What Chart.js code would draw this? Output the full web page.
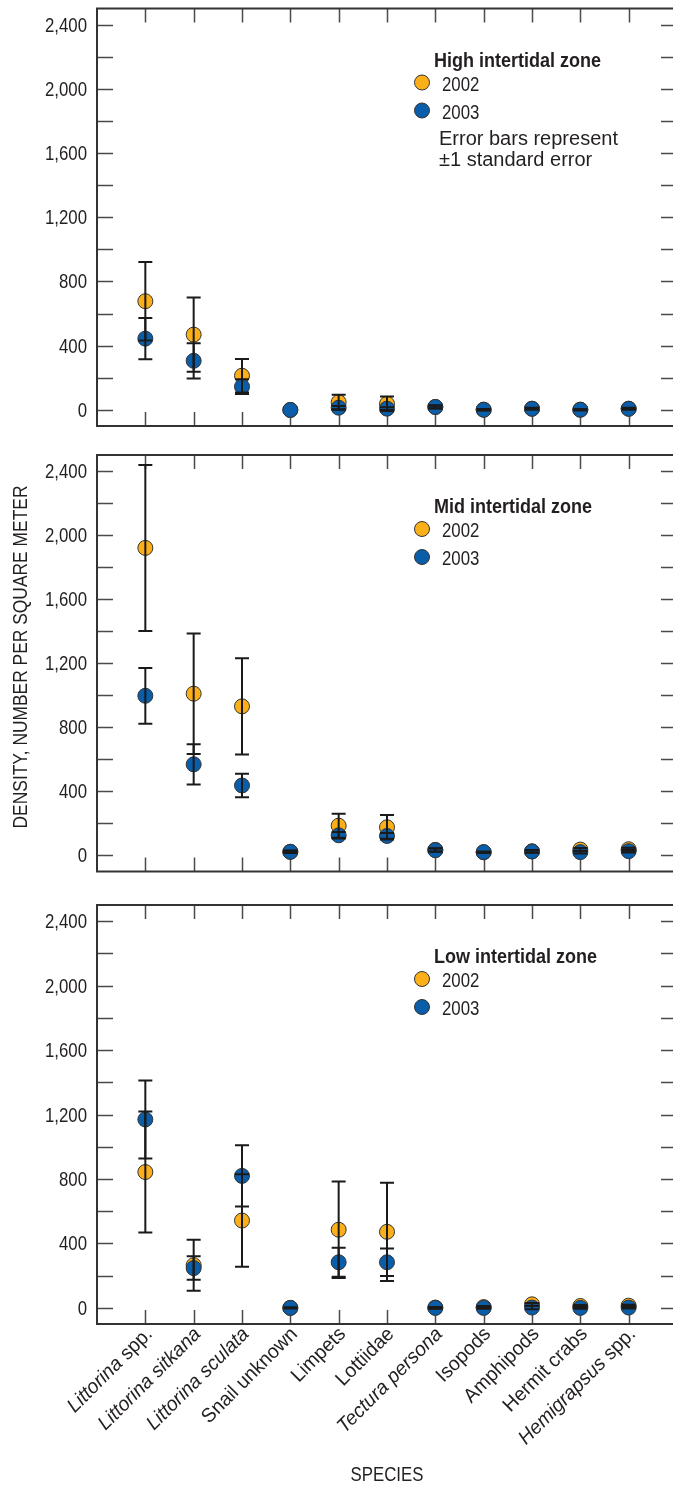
<!DOCTYPE html>
<html>
<head>
<meta charset="utf-8">
<script src="https://cdn.jsdelivr.net/npm/chart.js@4.4.0/dist/chart.umd.min.js"></script>
<style>
  body { margin: 0; background: #fff; }
  #wrap { position: relative; width: 673px; height: 1487px; overflow: hidden; }
  canvas { position: absolute; left: 0; }
</style>
</head>
<body>
<div id="wrap">
  <canvas id="high" width="700" height="440" style="top:0"></canvas>
  <canvas id="mid" width="700" height="440" style="top:440px"></canvas>
  <canvas id="low" width="700" height="607" style="top:880px"></canvas>
</div>
<script>
// categories along the x axis (italic part is the genus / species name)
var species = ["Littorina spp.", "Littorina sitkana", "Littorina sculata", "Snail unknown", "Limpets",
  "Lottiidae", "Tectura persona", "Isopods", "Amphipods", "Hermit crabs", "Hemigrapsus spp."];
var italicPart = ["Littorina", "Littorina sitkana", "Littorina sculata", "", "", "",
  "Tectura persona", "", "", "", "Hemigrapsus"];

var yTicks = [0, 400, 800, 1200, 1600, 2000, 2400];
var yMinorTicks = [0, 200, 400, 600, 800, 1000, 1200, 1400, 1600, 1800, 2000, 2200, 2400];

// density, number per square meter, and standard error
var high2002 = [677, 469, 213, 0, 48, 38, 18, 2, 8, 2, 8];
var high2002Se = [244, 231, 105, 0, 47, 45, 8, 4, 6, 3, 6];
var high2003 = [444, 306, 145, 0, 14, 8, 19, 1, 7, 1, 7];
var high2003Se = [128, 110, 46, 0, 10, 8, 10, 5, 5, 4, 5];

var mid2002 = [1920, 1010, 931, 23, 186, 176, 35, 20, 26, 37, 39];
var mid2002Se = [518, 376, 300, 8, 75, 76, 10, 4, 8, 10, 10];
var mid2003 = [997, 569, 437, 23, 126, 122, 33, 21, 25, 21, 27];
var mid2003Se = [174, 126, 73, 6, 20, 18, 10, 3, 8, 8, 8];

var low2002 = [843, 265, 542, 0, 485, 472, 2, 5, 22, 12, 14];
var low2002Se = [375, 158, 287, 0, 300, 305, 4, 6, 8, 6, 6];
var low2003 = [1169, 247, 819, 0, 283, 283, 0, 0, 2, 0, 2];
var low2003Se = [242, 73, 190, 4, 90, 85, 5, 6, 10, 6, 6];

var ORANGE = "#fbb01a";
var BLUE = "#0a5ea9";
var INK = "#231f20";
var FAMILY = "'Liberation Sans', Arial, sans-serif";
var NARROW = 0.84;   // squeeze to look like a condensed face

Chart.defaults.font.family = FAMILY;
Chart.defaults.color = INK;

function pts(values) {
  return values.map(function(v, i) { return {x: i, y: v}; });
}

// text with optional horizontal squeeze and rotation
function label(ctx, text, x, y, o) {
  ctx.save();
  ctx.translate(x, y);
  if (o.rot) ctx.rotate(o.rot);
  ctx.scale(o.sx || 1, 1);
  ctx.font = (o.style || "") + " " + (o.weight || "") + " " + (o.size || 20) + "px " + FAMILY;
  ctx.textAlign = o.align || "left";
  ctx.textBaseline = "alphabetic";
  ctx.fillStyle = INK;
  ctx.fillText(text, 0, 0);
  var w = ctx.measureText(text).width * (o.sx || 1);
  ctx.restore();
  return w;
}

function textWidth(ctx, text, font, sx) {
  ctx.save();
  ctx.font = font;
  var w = ctx.measureText(text).width * sx;
  ctx.restore();
  return w;
}

// frame, inward tick marks on all four sides, y tick labels
var frameTicks = {
  id: "frameTicks",
  beforeDatasetsDraw: function(chart) {
    var ctx = chart.ctx, a = chart.chartArea;
    var xs = chart.scales.x, ys = chart.scales.y;
    ctx.save();
    ctx.strokeStyle = "#4a4a4a";
    ctx.lineWidth = 1.5;
    ctx.beginPath();
    yMinorTicks.forEach(function(v) {
      var y = Math.round(ys.getPixelForValue(v)) + 0.5;
      ctx.moveTo(a.left, y); ctx.lineTo(a.left + 16, y);
      ctx.moveTo(a.right, y); ctx.lineTo(a.right - 16, y);
    });
    species.forEach(function(s, i) {
      var x = Math.round(xs.getPixelForValue(i)) + 0.5;
      ctx.moveTo(x, a.top); ctx.lineTo(x, a.top + 14);
      ctx.moveTo(x, a.bottom); ctx.lineTo(x, a.bottom - 14);
    });
    ctx.stroke();
    ctx.strokeStyle = "#333";
    ctx.lineWidth = 2;
    ctx.strokeRect(a.left, a.top, a.right - a.left, a.bottom - a.top);
    ctx.restore();
    ys.ticks.forEach(function(t) {
      label(ctx, t.value.toLocaleString("en-US"), a.left - 10, ys.getPixelForValue(t.value) + 7,
        {align: "right", sx: NARROW});
    });
  }
};

// +/- 1 standard error bars, drawn over the markers
var errorBars = {
  id: "errorBars",
  afterDatasetsDraw: function(chart) {
    var ctx = chart.ctx, xs = chart.scales.x, ys = chart.scales.y;
    ctx.save();
    ctx.strokeStyle = "#1a1a1a";
    ctx.lineWidth = 2;
    chart.data.datasets.forEach(function(ds) {
      ds.data.forEach(function(p, i) {
        var se = ds.se[i];
        if (!se) return;
        var x = xs.getPixelForValue(p.x);
        var y1 = ys.getPixelForValue(p.y + se), y2 = ys.getPixelForValue(p.y - se);
        ctx.beginPath();
        ctx.moveTo(x, y1); ctx.lineTo(x, y2);
        ctx.moveTo(x - 7, y1); ctx.lineTo(x + 7, y1);
        ctx.moveTo(x - 7, y2); ctx.lineTo(x + 7, y2);
        ctx.stroke();
      });
    });
    ctx.restore();
  }
};

// legend inside the plot, species labels and axis titles
var decorations = {
  id: "decorations",
  afterDraw: function(chart) {
    var ctx = chart.ctx, a = chart.chartArea;
    var o = chart.options.plugins.decorations;
    label(ctx, o.title, a.left + 337, a.top + 58, {weight: "bold", sx: 0.9});
    chart.data.datasets.forEach(function(ds, k) {
      var y = a.top + 74 + k * 28;
      ctx.save();
      ctx.beginPath();
      ctx.arc(a.left + 325, y, 7.5, 0, Math.PI * 2);
      ctx.fillStyle = ds.backgroundColor;
      ctx.fill();
      ctx.lineWidth = 1;
      ctx.strokeStyle = "#333";
      ctx.stroke();
      ctx.restore();
      label(ctx, ds.label, a.left + 345, y + 8, {sx: NARROW});
    });
    (o.notes || []).forEach(function(t, k) {
      label(ctx, t, a.left + 342, a.top + 136 + k * 21, {size: 20});
    });

    if (o.yTitle) {
      label(ctx, o.yTitle, 27, a.top + 202, {rot: -Math.PI / 2, align: "center", sx: 0.87});
    }

    if (o.xLabels) {
      var xs = chart.scales.x;
      var sx = 0.97, rot = -Math.PI / 4;
      var c = Math.cos(rot), s = Math.sin(rot);
      species.forEach(function(name, i) {
        var it = italicPart[i];
        var rest = name.slice(it.length);
        var wRest = textWidth(ctx, rest, "20px " + FAMILY, sx);
        var wIt = textWidth(ctx, it, "italic 20px " + FAMILY, sx);
        var x0 = xs.getPixelForValue(i) + 8, y0 = a.bottom + 11;
        var d = -(wIt + wRest);
        if (it) label(ctx, it, x0 + d * c, y0 + d * s, {rot: rot, style: "italic", sx: sx});
        if (rest) label(ctx, rest, x0 - wRest * c, y0 - wRest * s, {rot: rot, sx: sx});
      });
      label(ctx, "SPECIES", (a.left + a.right) / 2, a.bottom + 157, {align: "center", sx: NARROW});
    }
  }
};

function makePanel(id, title, v2002, se2002, v2003, se2003, pad, extra) {
  return new Chart(document.getElementById(id), {
    type: "scatter",
    data: {
      datasets: [
        {label: "2002", data: pts(v2002), se: se2002, order: 2, backgroundColor: ORANGE, borderColor: "#333",
          borderWidth: 1, pointRadius: 7.5, pointHoverRadius: 7.5},
        {label: "2003", data: pts(v2003), se: se2003, order: 1, backgroundColor: BLUE, borderColor: "#333",
          borderWidth: 1, pointRadius: 7.5, pointHoverRadius: 7.5}
      ]
    },
    options: {
      responsive: false,
      animation: false,
      devicePixelRatio: 1,
      layout: {padding: pad},
      scales: {
        x: {type: "linear", min: -1, max: 11, display: false},
        y: {
          min: -100,
          max: 2500,
          afterFit: function(s) { s.width = 97; },
          afterBuildTicks: function(s) { s.ticks = yTicks.map(function(v) { return {value: v}; }); },
          grid: {display: false},
          border: {display: false},
          ticks: {display: false}
        }
      },
      plugins: {
        legend: {display: false},
        tooltip: {enabled: false},
        decorations: {title: title, notes: extra.notes, xLabels: extra.xLabels, yTitle: extra.yTitle}
      }
    },
    plugins: [frameTicks, errorBars, decorations]
  });
}

makePanel("high", "High intertidal zone", high2002, high2002Se, high2003, high2003Se,
  {top: 6, bottom: 14, left: 0, right: 23},
  {notes: ["Error bars represent", "\u00b11 standard error"]});
makePanel("mid", "Mid intertidal zone", mid2002, mid2002Se, mid2003, mid2003Se,
  {top: 15, bottom: 6, left: 0, right: 23},
  {yTitle: "DENSITY, NUMBER PER SQUARE METER"});
makePanel("low", "Low intertidal zone", low2002, low2002Se, low2003, low2003Se,
  {top: 25, bottom: 163, left: 0, right: 23},
  {xLabels: true});
</script>
</body>
</html>
